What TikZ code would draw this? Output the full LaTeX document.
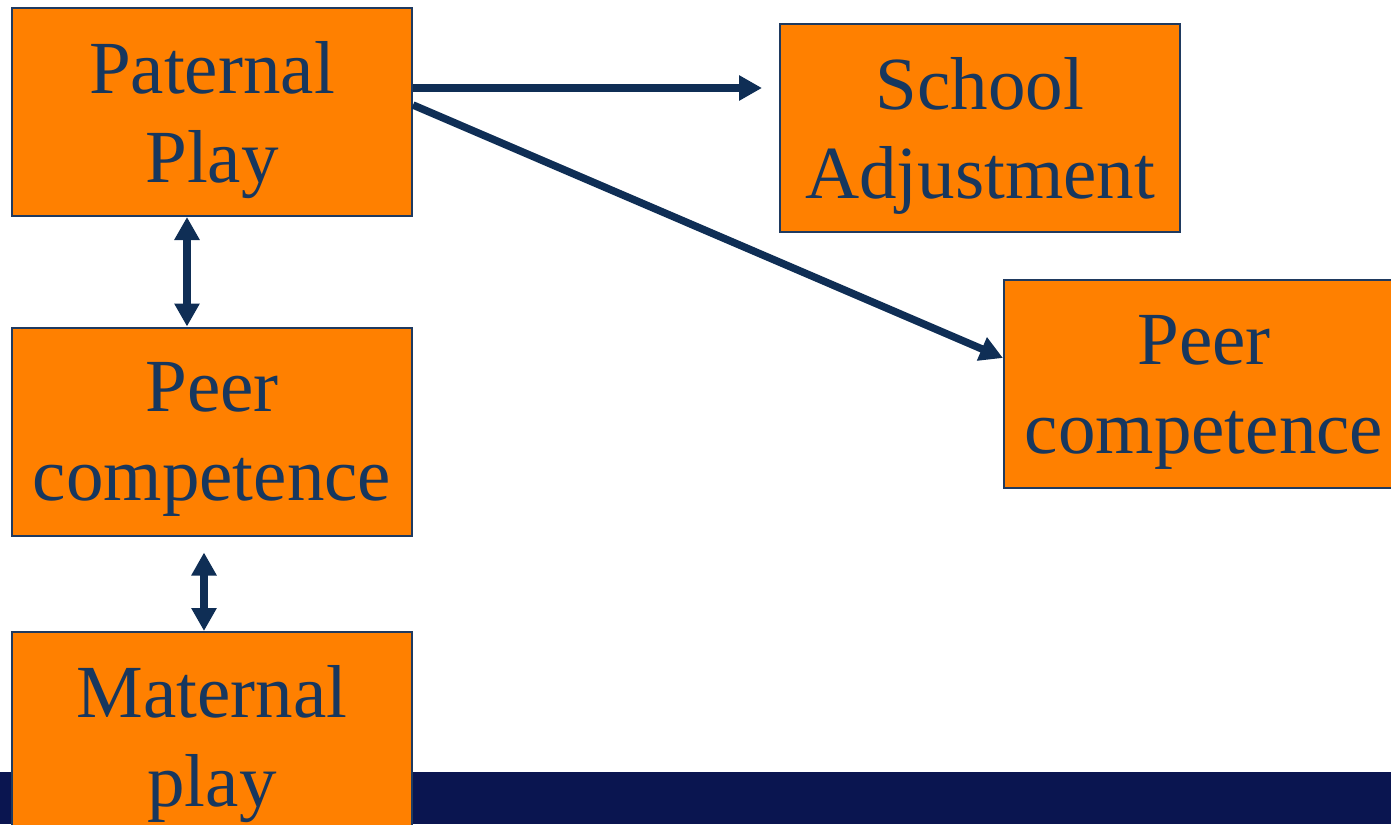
\documentclass[tikz,border=0pt]{standalone}
\usepackage{fontspec}
\setmainfont{Liberation Serif}
\usetikzlibrary{arrows.meta, positioning}
\definecolor{boxfill}{HTML}{FF8000}
\definecolor{boxdraw}{HTML}{1F3A60}
\definecolor{textblue}{HTML}{17375E}
\definecolor{arrowblue}{HTML}{0F2E55}
\definecolor{bandblue}{HTML}{0A1550}
\def\boxwidth{400pt}
\def\boxheight{208pt}
\def\boxlinewidth{2pt}
\def\arrowlinewidth{7.5pt}
\tikzset{
	% boxes
	factor/.style={
		draw=boxdraw,
		fill=boxfill,
		line width=\boxlinewidth,
		shape=rectangle,
		minimum width=\boxwidth,
		minimum height=\boxheight,
		inner sep=0pt,
		align=center,
		text=textblue,
		text depth=0pt,
		font=\fontsize{75}{89}\selectfont,
	},
	% connections
	link/.style={
		draw=arrowblue,
		line width=\arrowlinewidth,
		-{Triangle[length=23pt,width=24pt]},
	},
	both_link/.style={
		link,
		{Triangle[length=23pt,width=24pt]}-{Triangle[length=23pt,width=24pt]},
	}
}
\begin{document}
\begin{tikzpicture}[x=1pt, y=-1pt]
	\useasboundingbox (0,0) rectangle (1391,824);
	\clip (0,0) rectangle (1391,824);
	% bottom band
	\fill[bandblue] (0,772) rectangle (1391,824);
	%
	\node[factor] (paternal) at (212,112) {Paternal\\Play};
	%
	\node[factor] (school) at (980,128) {School\\Adjustment};
	%
	\node[factor] (peer_left) at (212,431.5) {Peer\\competence};
	%
	\node[factor] (maternal) at (212,736) {Maternal\\play};
	%
	\node[factor] (peer_right) at (1204,384) {Peer\\competence};
	%
	\draw[link, shorten >=17pt] ([yshift=24pt]paternal.east) -- ([yshift=24pt]paternal.east -| school.west);
	\draw[link] ([yshift=7pt]paternal.east) -- ([yshift=26pt]peer_right.west);
	%
	\draw[both_link] ([xshift=-25pt]paternal.south) -- ([xshift=-25pt]peer_left.north);
	\draw[both_link, shorten <=16pt] ([xshift=-8pt]peer_left.south) -- ([xshift=-8pt]maternal.north);
\end{tikzpicture}
\end{document}
